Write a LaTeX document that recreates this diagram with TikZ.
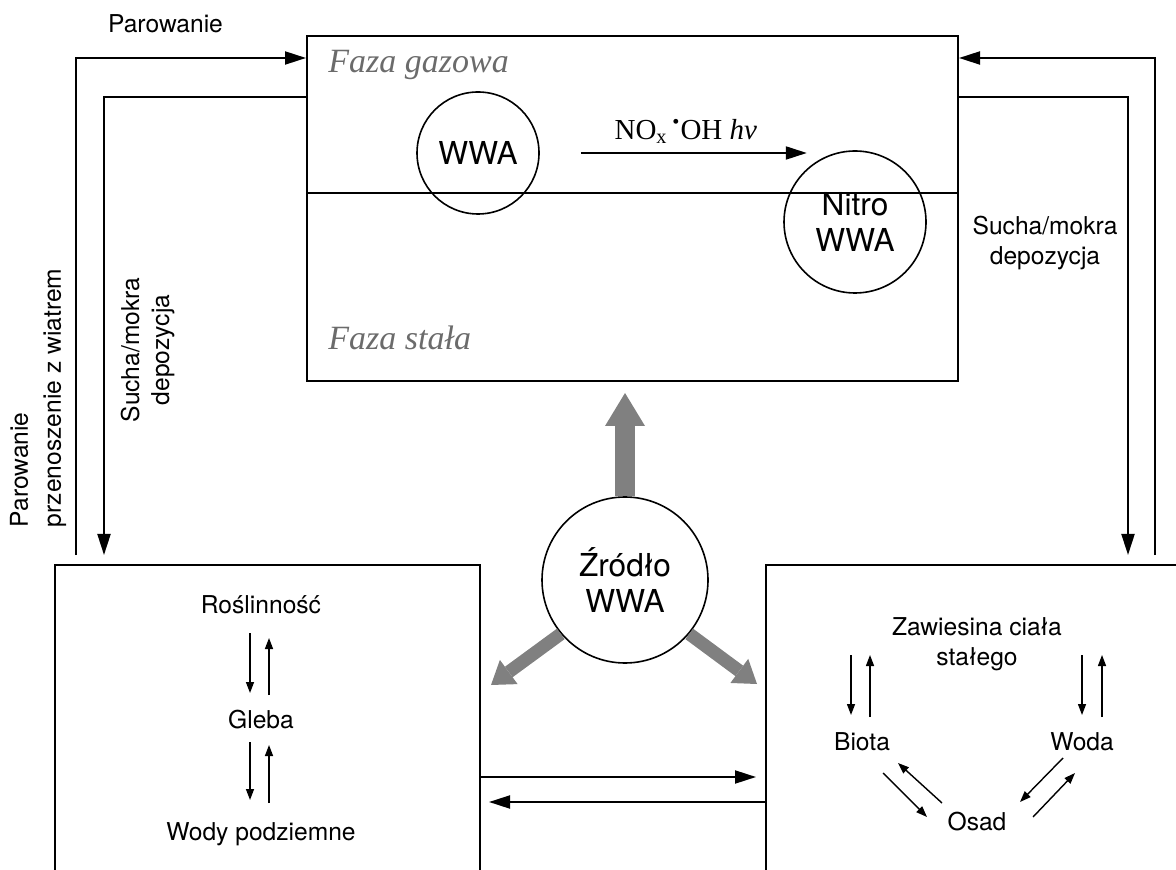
\documentclass[tikz,border=0pt]{standalone}
\usepackage{fontspec}
\setmainfont{TeX Gyre Heros}
\newfontfamily\serifrm{Liberation Serif}
\usetikzlibrary{arrows.meta, calc, positioning}
\definecolor{srcgray}{HTML}{808080}
\definecolor{phasegray}{HTML}{6B6B6B}
\tikzset{
  % ramka przedziału środowiska
  zone/.style={draw=black, line width=1pt},
  % związek w kółku
  cmpd/.style={circle, draw=black, line width=0.8pt, align=center, inner sep=0pt,
    font=\fontsize{15.8}{18}\selectfont},
  % etykiety
  lbl/.style={font=\fontsize{12.3}{15}\selectfont, align=center},
  item/.style={lbl, text height=9pt, text depth=2.5pt},
  phase/.style={font=\serifrm\itshape\fontsize{17}{20}\selectfont, text=phasegray, inner sep=0pt},
  % strzałki
  flow/.style={line width=1pt, -{Triangle[length=10.5pt, width=6.5pt]}},
  fine/.style={line width=0.7pt, -{Triangle[length=5.5pt, width=4pt]}},
  srcup/.style={line width=10pt, srcgray, -{Triangle[length=16.5pt, width=20pt, line width=0pt]}},
  srcdiag/.style={line width=6.5pt, srcgray, -{Triangle[length=11pt, width=15pt, line width=0pt]}},
}
\begin{document}
\begin{tikzpicture}[x=0.5pt, y=-0.5pt]
  \useasboundingbox (0,0) rectangle (1176,870);
  \clip (0,0) rectangle (1176,870);
  % przedziały
  \node[zone, minimum width=325.5pt, minimum height=172.5pt] (atm) at (632.5,208.5) {};
  \node[zone, minimum width=212.5pt, minimum height=167.5pt] (land) at (267.5,732.5) {};
  \node[zone, minimum width=217pt, minimum height=167.5pt] (water) at (983,732.5) {};
  \coordinate (divY) at (0,193);
  \draw[line width=1pt] (atm.west |- divY) -- (atm.east |- divY);
  \node[phase, anchor=base west] (gasl) at (328,73) {Faza gazowa};
  \node[phase, anchor=base west] (solidl) at (328,350) {Faza stała};
  % WWA i nitro-WWA
  \node[cmpd, minimum size=61pt] (pah) at (478,153) {WWA};
  \node[cmpd, minimum size=71pt] (npah) at (855,222) {Nitro\\WWA};
  \draw[flow] ([xshift=20.5pt]pah.east) -- ++(113pt,0)
    node[midway, above=1pt, xshift=-4pt, font=\serifrm\fontsize{14.5}{16}\selectfont] (rxl)
    {NO\textsubscript{x}\,\textsuperscript{\textbullet}OH \textit{hν}};
  % źródło
  \node[cmpd, fill=white, minimum size=83pt] (src) at (625,580) {Źródło\\WWA};
  \coordinate (hitLand) at (491,685);
  \coordinate (hitWater) at (757,684);
  \draw[srcup, shorten >=5.5pt] (src.north) -- (src.north |- atm.south);
  \draw[srcdiag] (src.220) -- (hitLand);
  \draw[srcdiag] (src.-40) -- (hitWater);
  % obieg atmosfera - ląd / woda
  \coordinate (hiY) at (0,58);
  \coordinate (loY) at (0,97);
  \coordinate (evapL) at (76,555);
  \coordinate (depL) at (104,555);
  \coordinate (depR) at (1128,555);
  \coordinate (evapR) at (1155,555);
  \draw[flow] (evapL) |- (atm.west |- hiY);
  \draw[flow] (atm.west |- loY) -| (depL);
  \draw[flow] (evapR) |- (atm.east |- hiY);
  \draw[flow] (atm.east |- loY) -| (depR);
  \node[lbl, anchor=base] (evapTop) at (165.5,33) {Parowanie};
  \node[lbl, rotate=90, align=left, font=\fontsize{12.3}{16.5}\selectfont] (evapSide) at (38,398)
    {Parowanie\\przenoszenie z wiatrem};
  \node[lbl, rotate=90] (depSideL) at (147.5,350) {Sucha/mokra\\depozycja};
  \node[lbl] (depSideR) at (1045,243) {Sucha/mokra\\depozycja};
  % wymiana ląd - woda
  \coordinate (toWaterY) at (0,777);
  \coordinate (toLandY) at (0,802);
  \draw[flow, shorten >=4.5pt] (land.east |- toWaterY) -- (water.west |- toWaterY);
  \draw[flow, shorten >=4pt] (water.west |- toLandY) -- (land.east |- toLandY);
  % ląd
  \node[item] (veg) at (261,607) {Roślinność};
  \node[item] (soil) at (261,722) {Gleba};
  \node[item] (gw) at (261,834) {Wody podziemne};
  \draw[fine] ([shift={(-5.5pt,-13pt)}]veg.center) -- ([shift={(-5.5pt,14.5pt)}]soil.center);
  \draw[fine] ([shift={(4pt,13.5pt)}]soil.center) -- ([shift={(4pt,-15.5pt)}]veg.center);
  \draw[fine] ([shift={(-5.5pt,-10pt)}]soil.center) -- ([shift={(-5.5pt,17pt)}]gw.center);
  \draw[fine] ([shift={(4pt,15.5pt)}]gw.center) -- ([shift={(4pt,-11.5pt)}]soil.center);
  % woda
  \node[lbl] (susp) at (977,644) {Zawiesina ciała\\stałego};
  \node[item] (biota) at (862,744) {Biota};
  \node[item] (woda) at (1082,744) {Woda};
  \node[item] (osad) at (977,824) {Osad};
  \draw[fine] ([shift={(-5.5pt,44.5pt)}]biota.center) -- ([shift={(-5.5pt,14.5pt)}]biota.center);
  \draw[fine] ([shift={(4pt,13.5pt)}]biota.center) -- ([shift={(4pt,44.5pt)}]biota.center);
  \draw[fine] ([shift={(0pt,44.5pt)}]woda.center) -- ([shift={(0pt,14.5pt)}]woda.center);
  \draw[fine] ([shift={(10pt,13.5pt)}]woda.center) -- ([shift={(10pt,44.5pt)}]woda.center);
  \draw[fine] ([shift={(10.5pt,-14.5pt)}]biota.center) -- ([shift={(-25pt,3.5pt)}]osad.center);
  \draw[fine] ([shift={(-17.5pt,10.5pt)}]osad.center) -- ([shift={(18pt,-9.5pt)}]biota.center);
  \draw[fine] ([shift={(-9.5pt,-7pt)}]woda.center) -- ([shift={(21.5pt,11pt)}]osad.center);
  \draw[fine] ([shift={(28pt,3.5pt)}]osad.center) -- ([shift={(-3.5pt,-14.5pt)}]woda.center);
\end{tikzpicture}
\end{document}
